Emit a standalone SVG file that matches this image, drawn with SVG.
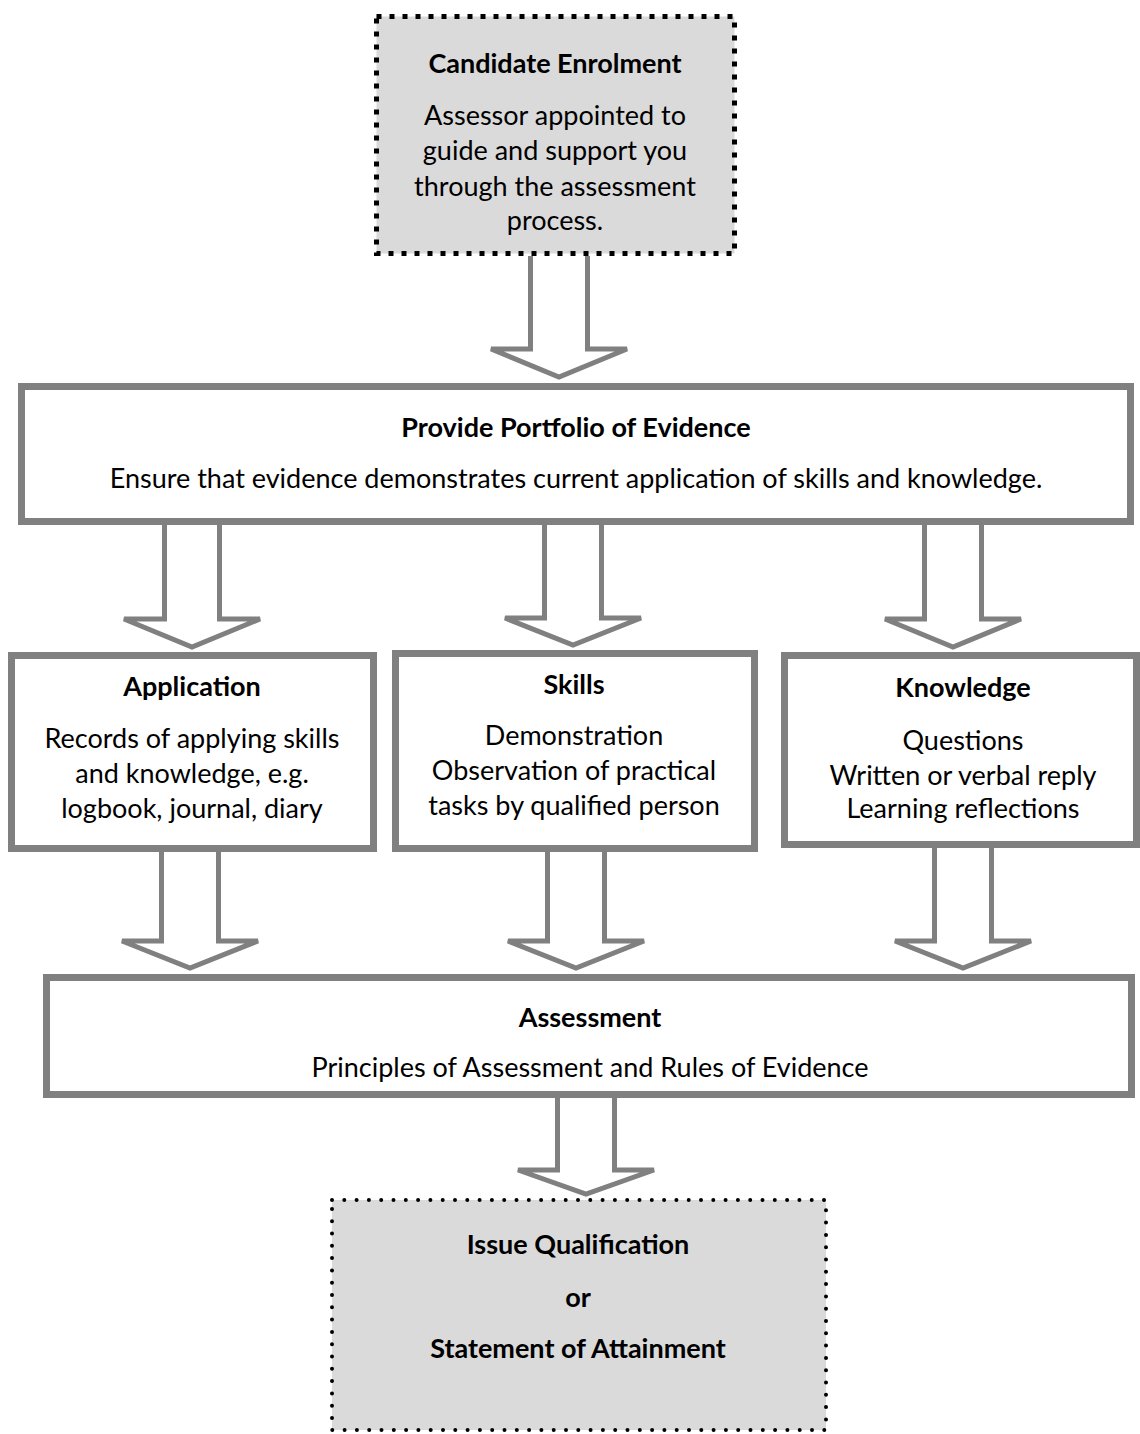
<svg xmlns="http://www.w3.org/2000/svg" width="1140" height="1434" viewBox="0 0 1140 1434">
<style>
.box{fill:#ffffff;stroke:#808080;stroke-width:7}
.dash{fill:#dadada;stroke:#000000;stroke-width:5;stroke-dasharray:5 8}
.dot{fill:#dadada;stroke:#000000;stroke-width:4;stroke-dasharray:0 12.3;stroke-linecap:round}
.arr{fill:#ffffff;stroke:#808080;stroke-width:5;stroke-linejoin:miter}
text{font-family:Lato,"Open Sans","Liberation Sans",sans-serif;font-size:27px;fill:#000;text-anchor:middle}
.b{font-weight:bold}
</style>
<rect width="1140" height="1434" fill="#ffffff"/>
<g id="nodes">
<g id="enrolment">
<rect class="dash" x="376.5" y="16.5" width="358" height="237"/>
<text class="b" x="555" y="73">Candidate Enrolment</text>
<text x="555" y="125">Assessor appointed to</text>
<text x="555" y="160">guide and support you</text>
<text x="555" y="196">through the assessment</text>
<text x="555" y="230">process.</text>
</g>
<g id="portfolio">
<rect class="box" x="21.5" y="386.5" width="1109" height="135"/>
<text class="b" x="576" y="437">Provide Portfolio of Evidence</text>
<text x="576" y="488">Ensure that evidence demonstrates current application of skills and knowledge.</text>
</g>
<g id="application">
<rect class="box" x="11.5" y="655.5" width="362" height="193"/>
<text class="b" x="192" y="696">Application</text>
<text x="192" y="748">Records of applying skills</text>
<text x="192" y="783">and knowledge, e.g.</text>
<text x="192" y="818">logbook, journal, diary</text>
</g>
<g id="skills">
<rect class="box" x="395.5" y="653.5" width="359" height="195"/>
<text class="b" x="574" y="694">Skills</text>
<text x="574" y="745">Demonstration</text>
<text x="574" y="780">Observation of practical</text>
<text x="574" y="815">tasks by qualified person</text>
</g>
<g id="knowledge">
<rect class="box" x="784.5" y="655.5" width="352" height="189"/>
<text class="b" x="963" y="697">Knowledge</text>
<text x="963" y="750">Questions</text>
<text x="963" y="785">Written or verbal reply</text>
<text x="963" y="818">Learning reflections</text>
</g>
<g id="assessment">
<rect class="box" x="46.5" y="977.5" width="1085" height="117"/>
<text class="b" x="590" y="1027">Assessment</text>
<text x="590" y="1077">Principles of Assessment and Rules of Evidence</text>
</g>
<g id="qualification">
<rect class="dot" x="332" y="1200" width="494" height="230"/>
<text class="b" x="578" y="1254">Issue Qualification</text>
<text class="b" x="578" y="1307">or</text>
<text class="b" x="578" y="1358">Statement of Attainment</text>
</g>
</g>
<g id="connectors">
<path class="arr" d="M530.5 256 V349 H491 L559 377 L627 349 H587.5 V256"/>
<path class="arr" d="M164.5 525 V619 H124 L192 647 L260 619 H219.5 V525"/>
<path class="arr" d="M544.5 525 V618 H505 L573 645 L641 618 H601.5 V525"/>
<path class="arr" d="M924.5 525 V619 H885 L953 647 L1021 619 H981.5 V525"/>
<path class="arr" d="M161.5 852 V941 H122 L190 968 L258 941 H218.5 V852"/>
<path class="arr" d="M547.5 852 V941 H508 L576 968 L644 941 H604.5 V852"/>
<path class="arr" d="M934.5 848 V941 H895 L963 968 L1031 941 H991.5 V848"/>
<path class="arr" d="M557.5 1098 V1170 H518 L586 1194 L654 1170 H614.5 V1098"/>
</g>
</svg>
